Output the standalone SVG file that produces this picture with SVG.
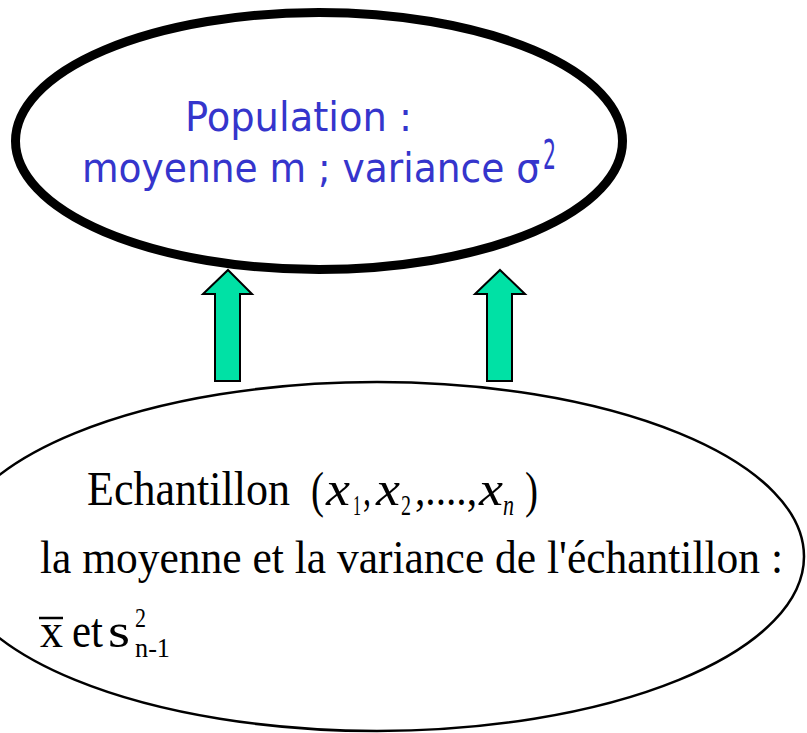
<svg xmlns="http://www.w3.org/2000/svg" width="807" height="733" viewBox="0 0 807 733">
<style>
.pop{fill:#fff;stroke:#000;stroke-width:9}
.ech{fill:#fff;stroke:#000;stroke-width:2.5}
.arrow{fill:#00E1A5;stroke:#000;stroke-width:2;stroke-linejoin:miter}
.blue{font-family:"DejaVu Sans Condensed","DejaVu Sans",sans-serif;font-size:40px;fill:#3535CC}
.tm{font-family:"Liberation Serif","Times New Roman",serif;fill:#000}
.it{font-style:italic}
</style>
<rect width="807" height="733" fill="#fff"/>
<g id="echantillon">
<ellipse class="ech" cx="377" cy="556.5" rx="427" ry="174.5"/>
<text class="tm" x="87" y="505" font-size="49" textLength="203" lengthAdjust="spacingAndGlyphs">Echantillon</text>
<text class="tm" x="311" y="507" font-size="50" textLength="13" lengthAdjust="spacingAndGlyphs">(</text>
<text class="tm it" x="326" y="505" font-size="48" textLength="24" lengthAdjust="spacingAndGlyphs">x</text>
<text class="tm" x="353" y="515" font-size="29" textLength="8" lengthAdjust="spacingAndGlyphs">1</text>
<text class="tm" x="363" y="505" font-size="46" textLength="8" lengthAdjust="spacingAndGlyphs">,</text>
<text class="tm it" x="376" y="505" font-size="48" textLength="24" lengthAdjust="spacingAndGlyphs">x</text>
<text class="tm" x="401" y="515" font-size="29" textLength="10" lengthAdjust="spacingAndGlyphs">2</text>
<text class="tm" x="415" y="505" font-size="46" textLength="62" lengthAdjust="spacingAndGlyphs">,....,</text>
<text class="tm it" x="479" y="505" font-size="48" textLength="24" lengthAdjust="spacingAndGlyphs">x</text>
<text class="tm it" x="503" y="515" font-size="29" textLength="11" lengthAdjust="spacingAndGlyphs">n</text>
<text class="tm" x="525" y="507" font-size="50" textLength="13" lengthAdjust="spacingAndGlyphs">)</text>
<text class="tm" x="40" y="573" font-size="47" textLength="743" lengthAdjust="spacingAndGlyphs">la moyenne et la variance de l'échantillon :</text>
<text class="tm" x="40" y="647" font-size="49" textLength="23" lengthAdjust="spacingAndGlyphs">x</text>
<line x1="39" y1="618" x2="63" y2="618" stroke="#000" stroke-width="2.5"/>
<text class="tm" x="72" y="647" font-size="49" textLength="31" lengthAdjust="spacingAndGlyphs">et</text>
<text class="tm" x="108" y="647" font-size="49" textLength="22" lengthAdjust="spacingAndGlyphs">s</text>
<text class="tm" x="135" y="627" font-size="28" textLength="11" lengthAdjust="spacingAndGlyphs">2</text>
<text class="tm" x="135" y="657" font-size="28" textLength="35" lengthAdjust="spacingAndGlyphs">n-1</text>
</g>
<g id="population">
<ellipse class="pop" cx="319" cy="141" rx="303.5" ry="128.5"/>
<text class="blue" x="185" y="131" textLength="227" lengthAdjust="spacingAndGlyphs">Population :</text>
<text class="blue" x="82" y="182" textLength="458" lengthAdjust="spacingAndGlyphs">moyenne m ; variance σ</text>
<text class="blue" x="543" y="169" font-size="25" textLength="13" lengthAdjust="spacingAndGlyphs">2</text>
</g>
<g id="connectors">
<polygon class="arrow" points="228,270 252,294 240,294 240,381 215,381 215,294 203,294"/>
<polygon class="arrow" points="500,270 525,294 512,294 512,381 487,381 487,294 475,294"/>
</g>
</svg>
